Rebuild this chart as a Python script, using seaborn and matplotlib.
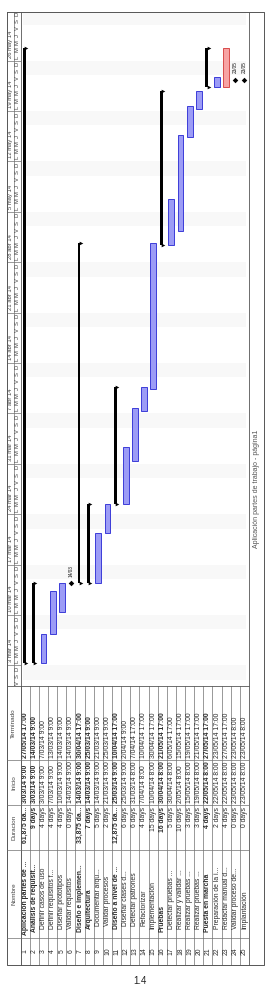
import matplotlib
matplotlib.use("Agg")
import matplotlib.pyplot as plt
import matplotlib.dates as mdates
import pandas as pd
import numpy as np
import seaborn as sns

# ---------------- data ----------------
task_ids = list(range(1, 26))
task_names = [
    "Aplicación partes de ...", "Análisis de requisit...", "Definir casos de uso",
    "Definir requisitos f...", "Diseñar prototipos", "Validar requisitos",
    "Diseño e implemen...", "Arquitectura", "Documentar arqu...", "Validar procesos",
    "Diseño a nivel de ...", "Diseñar clases d...", "Detectar patrones",
    "Refactorizar", "Implementación", "Pruebas", "Detectar pruebas ...",
    "Realizar y validar ...", "Realizar pruebas ...", "Realizar pruebas ...",
    "Puesta en marcha", "Preparación de la i...", "Redactar manual d...",
    "Validar proceso de...", "Implantación",
]
durations = [
    "61,875 da...", "9 days", "4 days", "4 days", "4 days", "0 days",
    "33,875 da...", "7 days", "5 days", "2 days", "12,875 da...", "6 days",
    "6 days", "4 days", "15 days", "16 days", "5 days", "10 days", "3 days",
    "3 days", "4 days", "2 days", "4 days", "0 days", "0 days",
]
start_labels = [
    "3/03/14 9:00", "3/03/14 9:00", "3/03/14 9:00", "7/03/14 9:00",
    "10/03/14 9:00", "14/03/14 9:00", "14/03/14 9:00", "14/03/14 9:00",
    "14/03/14 9:00", "21/03/14 9:00", "25/03/14 9:00", "25/03/14 9:00",
    "31/03/14 8:00", "7/04/14 8:00", "10/04/14 8:00", "30/04/14 8:00",
    "30/04/14 8:00", "2/05/14 8:00", "15/05/14 8:00", "19/05/14 8:00",
    "22/05/14 8:00", "22/05/14 8:00", "22/05/14 8:00", "23/05/14 8:00",
    "23/05/14 8:00",
]
finish_labels = [
    "27/05/14 17:00", "14/03/14 9:00", "7/03/14 9:00", "13/03/14 9:00",
    "14/03/14 9:00", "14/03/14 9:00", "30/04/14 17:00", "25/03/14 9:00",
    "21/03/14 9:00", "25/03/14 9:00", "10/04/14 17:00", "2/04/14 9:00",
    "7/04/14 17:00", "10/04/14 17:00", "30/04/14 17:00", "21/05/14 17:00",
    "6/05/14 17:00", "15/05/14 17:00", "19/05/14 17:00", "21/05/14 17:00",
    "27/05/14 17:00", "23/05/14 17:00", "27/05/14 17:00", "23/05/14 8:00",
    "23/05/14 8:00",
]
task_kinds = [
    "summary", "summary", "task", "task", "task", "milestone",
    "summary", "summary", "task", "task", "summary", "task",
    "task", "task", "task", "summary", "task", "task", "task",
    "task", "summary", "task", "critical", "milestone", "milestone",
]
outline_levels = [1, 2, 3, 3, 3, 3, 2, 3, 4, 4, 3, 4, 4, 4, 3, 2, 3, 3, 3, 3, 2, 3, 3, 3, 3]

column_titles = ["Terminado", "Inicio", "Duracion", "Nombre", ""]
week_labels = ["3 mar 14", "10 mar 14", "17 mar 14", "24 mar 14", "31 mar 14",
               "7 abr 14", "14 abr 14", "21 abr 14", "28 abr 14", "5 may 14",
               "12 may 14", "19 may 14", "26 may 14"]
week_starts = ["2014-03-03", "2014-03-10", "2014-03-17", "2014-03-24", "2014-03-31",
               "2014-04-07", "2014-04-14", "2014-04-21", "2014-04-28", "2014-05-05",
               "2014-05-12", "2014-05-19", "2014-05-26"]
day_letters = ["L", "M", "M", "J", "V", "S", "D"]
footer_text = "Aplicación partes de trabajo - página1"
page_number = "1.4"

# ---------------- layout (pixels) ----------------
W, H = 271, 988
FX0, FX1, FY0, FY1 = 7, 264, 12, 965       # outer frame
INNER_R = 249                             # end of rows
ROW_X0 = 20.7                             # first row starts
TIER_X = 13.7                             # week / day tier split
CHART_Y1 = 686                            # chart / table boundary
COL_EDGES = [686, 760, 805, 850, 938, 965]
T0_PX = 686.9                             # pixel of 28 feb 2014 00:00
DAY_PX = 7.2

BLUE_FILL, BLUE_EDGE = "#9c9cf6", "#3c3cd8"
RED_FILL, RED_EDGE = "#f7a3a3", "#d84a4a"
LINE_C = "#707070"
TXT_C = "#2a2a2a"

sns.set_theme(style="white")
plt.rcParams["font.family"] = ["Liberation Sans", "DejaVu Sans"]

df = pd.DataFrame({
    "id": task_ids, "name": task_names, "dur": durations,
    "start_lbl": start_labels, "finish_lbl": finish_labels,
    "kind": task_kinds, "level": outline_levels,
})
df["start"] = mdates.date2num(pd.to_datetime(df["start_lbl"], format="%d/%m/%y %H:%M"))
df["finish"] = mdates.date2num(pd.to_datetime(df["finish_lbl"], format="%d/%m/%y %H:%M"))

t0 = mdates.date2num(pd.Timestamp("2014-02-28"))
y_lo = t0 + (T0_PX - CHART_Y1) / DAY_PX
y_hi = t0 + (T0_PX - FY0) / DAY_PX


def rect(x0, y0, x1, y1):
    return [x0 / W, 1 - y1 / H, (x1 - x0) / W, (y1 - y0) / H]


fig = plt.figure(figsize=(W / 100, H / 100), dpi=100)
fig.patch.set_facecolor("white")

# ---------------- chart ----------------
ax = fig.add_axes(rect(ROW_X0, FY0, INNER_R, CHART_Y1))
ax.set_axis_off()

day = np.floor(y_lo)
while day < y_hi:
    if mdates.num2date(day).weekday() == 5:
        ax.axhspan(day, day + 2, xmin=0.01, xmax=0.985, color="#f8f8f8", lw=0, zorder=0)
    day += 1

tasks = df[df["kind"].isin(["task", "critical"])]
for _, r in tasks.iterrows():
    crit = r["kind"] == "critical"
    ax.bar(r["id"], r["finish"] - r["start"], bottom=r["start"], width=0.64,
           color=RED_FILL if crit else BLUE_FILL,
           edgecolor=RED_EDGE if crit else BLUE_EDGE, linewidth=0.7, zorder=3)

summ = df[df["kind"] == "summary"]
ax.bar(summ["id"] - 0.12, summ["finish"] - summ["start"], bottom=summ["start"],
       width=0.32, color="black", linewidth=0, zorder=4)
caps = pd.concat([
    pd.DataFrame({"x": summ["id"] + 0.1, "y": summ["start"]}),
    pd.DataFrame({"x": summ["id"] + 0.1, "y": summ["finish"]}),
])
sns.scatterplot(data=caps, x="x", y="y", marker=">", s=7, color="black",
                linewidth=0, ax=ax, zorder=5, legend=False)

ms = df[df["kind"] == "milestone"]
sns.scatterplot(data=ms, x="id", y="start", marker="D", s=8, color="black",
                linewidth=0, ax=ax, zorder=5, legend=False)
for _, r in ms.iterrows():
    ax.text(r["id"], r["start"] + 0.95, mdates.num2date(r["start"]).strftime("%d/%m"),
            rotation=90, ha="center", va="bottom", fontsize=3.4, color="#111111")
ax.set_xlim(0.5, 25.5)
ax.set_ylim(y_lo, y_hi)
ax.set_axis_off()

# ---------------- timescale ----------------
ts = fig.add_axes(rect(FX0, FY0, ROW_X0, CHART_Y1))
ts.set_xlim(0, 1)
ts.set_ylim(y_lo, y_hi)
ts.set_axis_off()
tr = ts.get_yaxis_transform()
split = (TIER_X - FX0) / (ROW_X0 - FX0)
d = np.floor(y_lo)
while d < y_hi:
    wd = mdates.num2date(d).weekday()
    ts.text((split + 1) / 2, d + 0.5, day_letters[wd], transform=tr, rotation=90,
            ha="center", va="center", fontsize=4.2, color="#444444", clip_on=True)
    d += 1
for lbl, ws in zip(week_labels, week_starts):
    wnum = mdates.date2num(pd.Timestamp(ws))
    ts.plot([0, 1], [wnum, wnum], transform=tr, color=LINE_C, lw=0.5)
    ts.text(split / 2, wnum + 0.4, lbl, transform=tr, rotation=90,
            ha="center", va="bottom", fontsize=4.2, color="#444444", clip_on=True)
ts.plot([split, split], [y_lo, y_hi], color=LINE_C, lw=0.5)

# ---------------- table ----------------
tab = fig.add_axes(rect(ROW_X0, CHART_Y1, INNER_R, FY1))
tab.set_xlim(0.5, 25.5)
tab.set_ylim(FY1, CHART_Y1)
tab.set_axis_off()
for k in range(26):
    tab.axvline(k + 0.5, color=LINE_C, lw=0.5)
for e in COL_EDGES[1:-1]:
    tab.axhline(e, color=LINE_C, lw=0.5)
for _, r in df.iterrows():
    fw = "bold" if r["kind"] == "summary" else "normal"
    x = r["id"]
    kw = dict(rotation=90, ha="center", fontsize=4.9, color=TXT_C, fontweight=fw)
    tab.text(x, COL_EDGES[1] - 2, r["finish_lbl"], va="bottom", **kw)
    tab.text(x, COL_EDGES[2] - 2, r["start_lbl"], va="bottom", **kw)
    tab.text(x, COL_EDGES[2] + 2, r["dur"], va="top", **kw)
    tab.text(x, COL_EDGES[4] - 3 - 3 * (r["level"] - 1), r["name"], va="bottom", **kw)
    tab.text(x, (COL_EDGES[4] + COL_EDGES[5]) / 2, str(r["id"]), va="center",
             rotation=90, ha="center", fontsize=4.9, color=TXT_C)

th = fig.add_axes(rect(FX0, CHART_Y1, ROW_X0, FY1))
th.set_xlim(0, 1)
th.set_ylim(FY1, CHART_Y1)
th.set_axis_off()
for i, t in enumerate(column_titles):
    th.text(0.5, (COL_EDGES[i] + COL_EDGES[i + 1]) / 2, t, rotation=90,
            ha="center", va="center", fontsize=4.6, color="#444444")

# ---------------- frame ----------------
fr = fig.add_axes([0, 0, 1, 1])
fr.set_xlim(0, W)
fr.set_ylim(H, 0)
fr.set_axis_off()
fr.patch.set_alpha(0)
fr.plot([FX0, FX1, FX1, FX0, FX0], [FY0, FY0, FY1, FY1, FY0], color="#555555", lw=0.7)
fr.plot([INNER_R, INNER_R], [FY0, FY1], color="#555555", lw=0.6)
fr.plot([ROW_X0, ROW_X0], [FY0, FY1], color="#555555", lw=0.6)
fr.plot([FX0, INNER_R], [CHART_Y1, CHART_Y1], color="#555555", lw=0.6)
for e in COL_EDGES[1:-1]:
    fr.plot([FX0, ROW_X0], [e, e], color=LINE_C, lw=0.5)
fr.text((INNER_R + FX1) / 2, 489, footer_text, rotation=90, ha="center", va="center",
        fontsize=5, color="#555555")
fr.text(140, 981, page_number, ha="center", va="center", fontsize=7, color="#222222")

fig.savefig("out.png", dpi=100, facecolor="white")
